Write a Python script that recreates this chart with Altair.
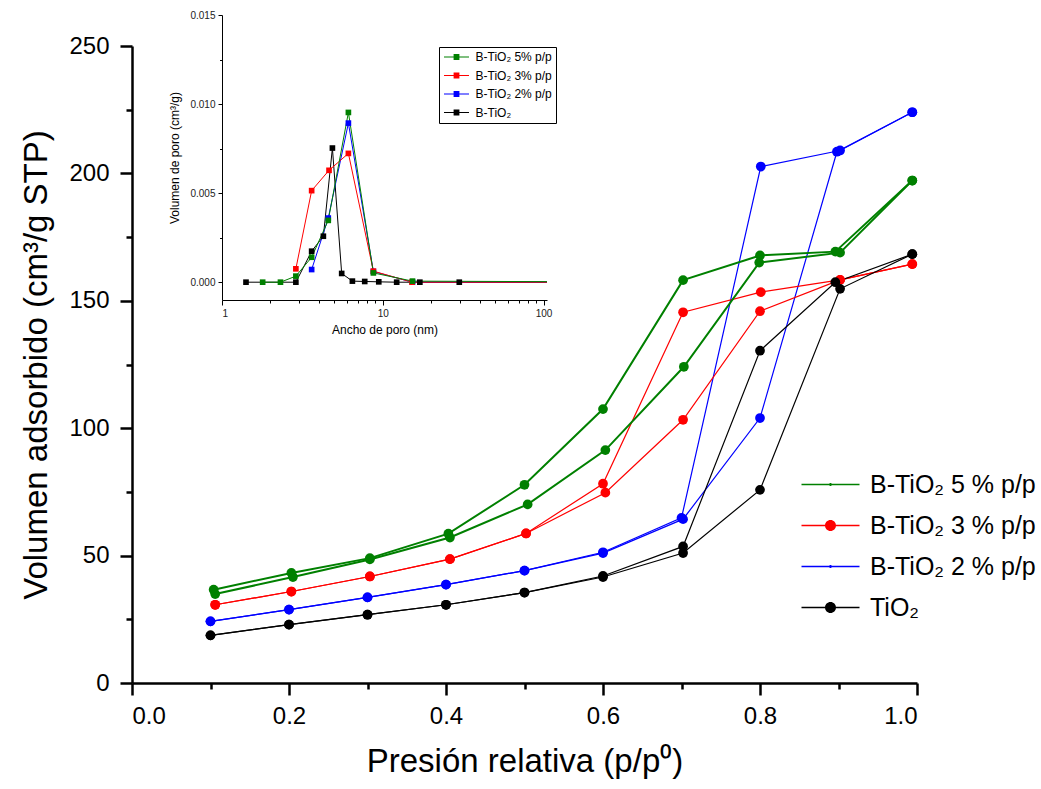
import altair as alt
import pandas as pd

FONT = "Liberation Sans, Arial, Helvetica, sans-serif"

# ---------------- main isotherms ----------------
series = ["B-TiO₂ 5 % p/p", "B-TiO₂ 3 % p/p", "B-TiO₂ 2 % p/p", "TiO₂"]
colors = ["#008000", "#ff0000", "#0000ff", "#000000"]
line_groups = ["thick", "thin", "thin", "thin"]

g5_ads_p = [0.106, 0.205, 0.303, 0.405, 0.504, 0.603, 0.703, 0.799, 0.902, 0.994]
g5_ads_v = [34.9, 41.6, 48.5, 57.1, 70.1, 91.4, 124.1, 165.0, 168.9, 197.2]
g5_des_p = [0.994, 0.896, 0.800, 0.702, 0.600, 0.500, 0.403, 0.303, 0.203, 0.104]
g5_des_v = [197.2, 169.3, 167.8, 158.1, 107.5, 77.8, 58.6, 49.0, 43.2, 36.6]

r3_ads_p = [0.106, 0.203, 0.303, 0.405, 0.502, 0.603, 0.702, 0.800, 0.902, 0.994]
r3_ads_v = [30.7, 35.9, 41.8, 48.6, 58.7, 74.7, 103.3, 145.9, 158.2, 164.4]
r3_des_p = [0.994, 0.902, 0.801, 0.702, 0.600, 0.502, 0.405, 0.303, 0.203, 0.106]
r3_des_v = [164.4, 158.2, 153.4, 145.5, 78.2, 58.7, 48.6, 41.8, 35.9, 30.7]

b2_ads_p = [0.100, 0.200, 0.300, 0.400, 0.500, 0.600, 0.702, 0.800, 0.898, 0.994]
b2_ads_v = [24.2, 28.8, 33.6, 38.6, 44.1, 51.0, 64.3, 104.0, 208.5, 224.0]
b2_des_p = [0.994, 0.902, 0.801, 0.700, 0.600, 0.500, 0.400, 0.300, 0.200, 0.100]
b2_des_v = [224.0, 209.0, 202.7, 64.8, 51.3, 44.1, 38.6, 33.6, 28.8, 24.2]

t_ads_p = [0.100, 0.200, 0.300, 0.400, 0.500, 0.600, 0.702, 0.800, 0.902, 0.994]
t_ads_v = [18.7, 22.9, 26.8, 30.7, 35.5, 41.6, 51.0, 75.8, 154.7, 168.3]
t_des_p = [0.994, 0.896, 0.800, 0.702, 0.600, 0.500, 0.400, 0.300, 0.200, 0.100]
t_des_v = [168.3, 157.3, 130.4, 53.6, 42.0, 35.5, 30.7, 26.8, 22.9, 18.7]

main_sets = [
    (2, b2_ads_p, b2_ads_v, b2_des_p, b2_des_v),
    (1, r3_ads_p, r3_ads_v, r3_des_p, r3_des_v),
    (3, t_ads_p, t_ads_v, t_des_p, t_des_v),
    (0, g5_ads_p, g5_ads_v, g5_des_p, g5_des_v),
]
rows = []
for k, ap, av, dp, dv in main_sets:
    name = series[k]
    for i, (p, v) in enumerate(zip(ap, av)):
        rows.append({"serie": name, "lw": line_groups[k], "branch": name + "-ads", "idx": i, "p": p, "v": v})
    for i, (p, v) in enumerate(zip(dp, dv)):
        rows.append({"serie": name, "lw": line_groups[k], "branch": name + "-des", "idx": i, "p": p, "v": v})
df = pd.DataFrame(rows)

# ---------------- inset: pore size distribution ----------------
inset_series = ["B-TiO₂ 5% p/p", "B-TiO₂ 3% p/p", "B-TiO₂ 2% p/p", "B-TiO₂"]
g5_w = [1.79, 2.31, 2.88, 3.61, 4.58, 6.11, 8.74, 15.3, 105]
g5_dv = [0, 0, 0.00034, 0.0014, 0.00347, 0.00953, 0.00052, 0.00006, 0.00003]
r3_w = [2.88, 3.61, 4.63, 6.11, 8.74, 15.2, 105]
r3_dv = [0.00075, 0.00514, 0.00628, 0.00723, 0.00062, 0.0, 0.0]
b2_w = [3.61, 4.58, 6.11, 8.74, 15.3, 105]
b2_dv = [0.00071, 0.0036, 0.00893, 0.0006, 0.0, 0.0]
t_w = [1.41, 2.88, 3.61, 4.27, 4.86, 5.55, 6.47, 7.72, 9.44, 12.2, 17.0, 29.9, 105]
t_dv = [0, 0, 0.00174, 0.00258, 0.00753, 0.00049, 0.00006, 0.00004, 0.00002, 0, 0, 0, 0]

inset_sets = [
    (inset_series[3], t_w, t_dv),
    (inset_series[2], b2_w, b2_dv),
    (inset_series[1], r3_w, r3_dv),
    (inset_series[0], g5_w, g5_dv),
]
irows = []
for name, ws, vs in inset_sets:
    for i, (w, v) in enumerate(zip(ws, vs)):
        irows.append({"serie": name, "idx": i, "w": w, "dv": v})
idf = pd.DataFrame(irows)

# ---------------- legend symbols (line + marker paths) ----------------
LINE_MAIN = "M-2.9,-0.065H2.9V0.065H-2.9Z"
BIG = "M0.55,0A0.55,0.55,0,1,1,-0.55,0A0.55,0.55,0,1,1,0.55,0Z"
SMALL = "M0.15,0A0.15,0.15,0,1,1,-0.15,0A0.15,0.15,0,1,1,0.15,0Z"
legend_paths = [LINE_MAIN + SMALL, LINE_MAIN + BIG, LINE_MAIN + SMALL, LINE_MAIN + BIG]
INSET_SYMBOL = "M-2.5,-0.11H2.5V0.11H-2.5ZM-0.58,-0.58H0.58V0.58H-0.58Z"

# ---------------- scales ----------------
x_scale = alt.Scale(domain=[0, 1], nice=False, zero=False)
y_scale = alt.Scale(domain=[0, 250], nice=False, zero=False)
fill_scale = alt.Scale(domain=series, range=colors)
stroke_scale = alt.Scale(domain=series + inset_series, range=colors + colors)
lw_scale = alt.Scale(domain=["thick", "thin"], range=[2.0, 1.2])

ax = dict(domainColor="black", tickColor="black", labelColor="black", titleColor="black",
          labelFont=FONT, titleFont=FONT, grid=False, domainWidth=2.5, tickWidth=2.5,
          titleFontWeight="normal")

x_major = alt.Axis(orient="bottom", values=[0, 0.2, 0.4, 0.6, 0.8, 1.0], format=".1f",
                   tickSize=12, labelFontSize=24, labelPadding=9,
                   title="Presión relativa (p/p⁰)", titleFontSize=33, titlePadding=17, **ax)
x_minor = alt.Axis(orient="bottom", values=[0.1, 0.3, 0.5, 0.7, 0.9], tickSize=6,
                   labels=False, domain=False, title=None, tickColor="black", tickWidth=2.5, grid=False)
y_major = alt.Axis(orient="left", values=[0, 50, 100, 150, 200, 250], format="d",
                   tickSize=12, labelFontSize=24, labelPadding=11,
                   title="Volumen adsorbido (cm³/g STP)", titleFontSize=33, titlePadding=15, **ax)
y_minor = alt.Axis(orient="left", values=[25, 75, 125, 175, 225], tickSize=6,
                   labels=False, domain=False, title=None, tickColor="black", tickWidth=2.5, grid=False)

legend_kw = dict(orient="none", legendX=667, legendY=426, title=None, labelFont=FONT,
                 labelFontSize=25, labelColor="black", labelLimit=400, symbolSize=400, symbolOffset=19,
                 labelOffset=27, rowPadding=15, padding=0, symbolStrokeWidth=0)
# legend-bearing layer first (empty data) so its explicit legend wins the merge
legend_layer = alt.Chart(df).transform_filter("datum.p < -1").mark_point(filled=True, opacity=1, size=400).encode(
    x=alt.X("p:Q", scale=x_scale, axis=x_minor),
    y=alt.Y("v:Q", scale=y_scale, axis=y_minor),
    fill=alt.Fill("serie:N", scale=fill_scale, legend=alt.Legend(**legend_kw)),
    shape=alt.Shape("serie:N", scale=alt.Scale(domain=series, range=legend_paths), legend=alt.Legend(**legend_kw)),
)
lines = alt.Chart(df).mark_line().encode(
    x=alt.X("p:Q", scale=x_scale, axis=x_major),
    y=alt.Y("v:Q", scale=y_scale, axis=y_major),
    stroke=alt.Stroke("serie:N", scale=stroke_scale, legend=None),
    strokeWidth=alt.StrokeWidth("lw:N", scale=lw_scale, legend=None),
    detail="branch:N",
    order="idx:Q",
)
points = alt.Chart(df).mark_circle(size=95, opacity=1, strokeWidth=0).encode(
    x=alt.X("p:Q", scale=x_scale, axis=None),
    y=alt.Y("v:Q", scale=y_scale, axis=None),
    fill=alt.Fill("serie:N", scale=fill_scale, legend=None),
)

# ---------------- inset chart ----------------
icolor = alt.Scale(domain=inset_series, range=colors)
ix_scale = alt.Scale(type="log", domain=[1, 105], range=[90, 415], nice=False)
iy_scale = alt.Scale(domain=[-0.001, 0.015], range=[254, -31], nice=False, zero=False)

iax = dict(domainColor="black", tickColor="black", labelColor="#222222", titleColor="black",
           labelFont=FONT, titleFont=FONT, grid=False, domainWidth=1, tickWidth=1,
           titleFontWeight="normal")
ix_major = alt.Axis(orient="bottom", offset=-383, values=[1, 10, 100], format="~g",
                    tickSize=5, labelFontSize=10, labelPadding=3,
                    title="Ancho de poro (nm)", titleFontSize=12, titlePadding=6, **iax)
ix_minor = alt.Axis(orient="bottom", offset=-383, values=[2, 3, 4, 5, 6, 7, 8, 9, 20, 30, 40, 50, 60, 70, 80, 90],
                    tickSize=3, labels=False, domain=False, title=None, tickColor="black", tickWidth=1, grid=False)
iy_major = alt.Axis(orient="left", offset=-90, values=[0, 0.005, 0.010, 0.015], format=".3f",
                    tickSize=4, labelFontSize=10, labelPadding=3,
                    title="Volumen de poro (cm³/g)", titleFontSize=12, titlePadding=8, **iax)
iy_minor = alt.Axis(orient="left", offset=-90, values=[0.0025, 0.0075, 0.0125],
                    tickSize=2.5, labels=False, domain=False, title=None, tickColor="black", tickWidth=1, grid=False)

ilines = alt.Chart(idf).mark_line(strokeWidth=1).encode(
    x=alt.X("w:Q", scale=ix_scale, axis=ix_major),
    y=alt.Y("dv:Q", scale=iy_scale, axis=iy_major),
    stroke=alt.Stroke("serie:N", scale=stroke_scale, legend=None),
    order="idx:Q",
)
ipoints = alt.Chart(idf).transform_filter("datum.w < 100").mark_square(size=32, opacity=1).encode(
    x=alt.X("w:Q", scale=ix_scale, axis=None),
    y=alt.Y("dv:Q", scale=iy_scale, axis=None),
    color=alt.Color("serie:N", scale=icolor, legend=alt.Legend(
        orient="none", legendX=307, legendY=1, title=None, labelFont=FONT, labelFontSize=12,
        labelColor="black", labelLimit=300, symbolType=INSET_SYMBOL, symbolSize=100, symbolOffset=7.5,
        labelOffset=13, rowPadding=6.5, padding=4, strokeColor="black", fillColor="white",
        symbolStrokeWidth=0)),
)
iminor = alt.Chart(idf).transform_filter("datum.w < 0").mark_square().encode(
    x=alt.X("w:Q", scale=ix_scale, axis=ix_minor),
    y=alt.Y("dv:Q", scale=iy_scale, axis=iy_minor),
)

chart = alt.layer(legend_layer, lines, points, ilines, ipoints, iminor).resolve_scale(
    x="independent", y="independent"
).properties(
    width=785, height=637,
    autosize=alt.AutoSizeParams(type="none"),
    padding={"left": 132, "top": 46, "right": 124, "bottom": 106},
    background="white",
).configure_view(stroke=None)

chart.save("out.html", embed_options={"renderer": "svg", "actions": False})
